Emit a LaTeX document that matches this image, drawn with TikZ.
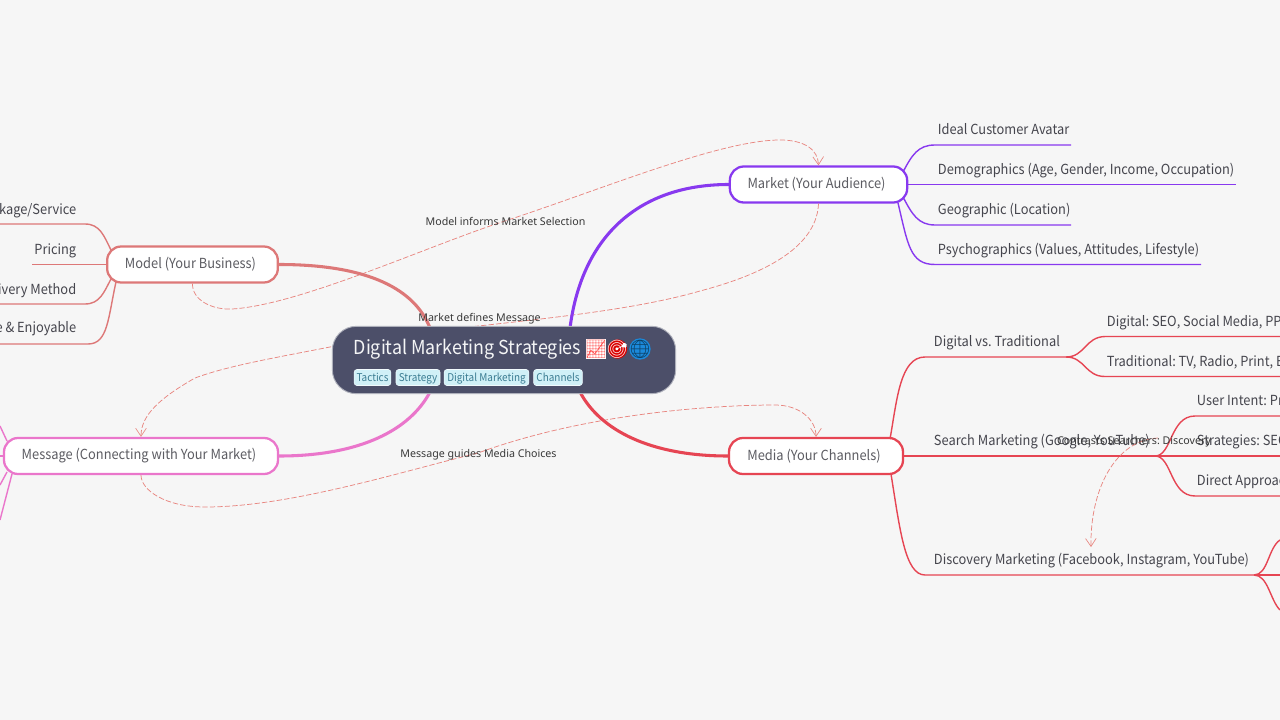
\documentclass[tikz,border=0pt]{standalone}
\usepackage{fontspec}
\usetikzlibrary{arrows.meta}
\setmainfont[FakeStretch=0.927]{Noto Sans CJK SC}
\newfontfamily\labelfont{Noto Sans}
\newfontfamily\emojifont{Noto Emoji}
\definecolor{bgc}{HTML}{F6F6F6}
\definecolor{rootc}{HTML}{4C4F69}
\definecolor{mk}{HTML}{8839EF}
\definecolor{md}{HTML}{DD7878}
\definecolor{ms}{HTML}{EA76CB}
\definecolor{me}{HTML}{E64553}
\definecolor{dashc}{HTML}{E8857F}
\definecolor{txt}{HTML}{45454D}
\definecolor{txtb}{HTML}{5C5C62}
\definecolor{tagf}{HTML}{D0F0F7}
\definecolor{tagt}{HTML}{3B7C92}
\definecolor{globe}{HTML}{1C8ADB}
\tikzset{
 x=0.75pt,y=-0.75pt,
 branch/.style={line width=2.3pt,line cap=round},
 leaf/.style={line width=1.05pt},
 topic/.style={draw,fill=white,rounded corners=10.5pt,line width=1.7pt,inner sep=0pt,text=txtb,font=\frenchspacing\fontsize{10.4pt}{13pt}\selectfont},
 subt/.style={anchor=west,inner sep=0pt,text=txt,text height=9.5pt,text depth=2.5pt,font=\frenchspacing\fontsize{10.4pt}{13pt}\selectfont},
 subr/.style={subt,anchor=east},
 rel/.style={dashc,line width=0.55pt,dash pattern=on 4pt off 1.6pt},
 relarrow/.style={rel,-{Straight Barb[length=6pt,width=8pt,line width=0.5pt]}},
 rellabel/.style={inner sep=0pt,text=black!78,text height=9pt,text depth=2pt,font=\frenchspacing\labelfont\fontsize{8pt}{10pt}\selectfont},
 tagb/.style={fill=tagf,draw=white!70!tagf,line width=0.4pt,rounded corners=2pt,inner sep=0pt,text=tagt,text height=8pt,text depth=1.9pt,font=\fontsize{8.05pt}{10pt}\selectfont},
 emo/.style={anchor=center,inner sep=0pt,font=\emojifont\fontsize{13.5pt}{16pt}\selectfont},
}
\begin{document}
\begin{tikzpicture}
\useasboundingbox (0,0) rectangle (1280,720);
\fill[bgc] (0,0) rectangle (1280,720);
\node[topic,draw=mk,minimum width=133pt,minimum height=27pt] (market) at (818.5,184.5) {\hspace*{-3pt}Market (Your Audience)};
\node[topic,draw=md,minimum width=128pt,minimum height=27pt] (model) at (192.5,264.5) {\hspace*{-3pt}Model (Your Business)};
\node[topic,draw=ms,minimum width=205.5pt,minimum height=27pt] (message) at (141,456) {\hspace*{-3pt}Message (Connecting with Your Market)};
\node[topic,draw=me,minimum width=130.5pt,minimum height=27pt] (media) at (816,456) {\hspace*{-3pt}Media (Your Channels)};
% relations under the root
\coordinate (m1) at (232,309);
\coordinate (m2) at (505,221);
\coordinate (m3) at (780,140);
\draw[relarrow] (model.south) .. controls (192,300) and (212,310) .. (m1) .. controls (300,305) and (430,245) .. (m2) .. controls (600,190) and (720,140) .. (m3) .. controls (805,140) and (818,150) .. (market.north);
\coordinate (k1) at (700,291);
\coordinate (k2) at (340,345);
\coordinate (k3) at (195,378);
\draw[relarrow] (market.south) .. controls (817,240) and (780,270) .. (k1) .. controls (600,320) and (440,325) .. (k2) .. controls (280,357) and (230,365) .. (k3) .. controls (160,398) and (141,415) .. (message.north);
\coordinate (g1) at (205,507);
\coordinate (g2) at (478,453);
\coordinate (g3) at (775,405);
\draw[relarrow] (message.south) .. controls (141,490) and (165,507) .. (g1) .. controls (290,507) and (400,472) .. (g2) .. controls (590,412) and (720,405) .. (g3) .. controls (800,405) and (816,420) .. (media.north);
% main branches
\coordinate (r1) at (570,328);
\coordinate (r2) at (430,328);
\coordinate (r3) at (430,392);
\coordinate (r4) at (580,392);
\draw[branch,mk] (r1) .. controls (582,235) and (640,184.5) .. (market.west);
\draw[branch,md] (r2) .. controls (415,290) and (370,264.5) .. (model.east);
\draw[branch,ms] (r3) .. controls (410,430) and (360,456) .. (message.east);
\draw[branch,me] (r4) .. controls (600,430) and (650,456) .. (media.west);
\node[fill=rootc,draw=white!55!rootc,line width=0.7pt,rounded corners=18pt,minimum width=257.5pt,minimum height=50.5pt,inner sep=0pt] (root) at (504,360) {};
% root content
\node[anchor=west,inner sep=0pt,text=white!94!rootc,text height=12.5pt,text depth=3.2pt,font=\fontsize{14.45pt}{18pt}\selectfont] (title) at (353.5,348) {Digital Marketing Strategies};
\node[fill=white,minimum size=15.5pt,inner sep=0pt] (e1b) at (596,349) {};
\node[emo,text=red!65!white] (e1) at (596,349) {📈};
\node[circle,fill=red!85!black,minimum size=14.5pt,inner sep=0pt] (e2b) at (617.5,349) {};
\node[emo,text=white] (e2) at (617.5,349) {🎯};
\node[circle,fill=globe,minimum size=16pt,inner sep=0pt] (e3b) at (640,349) {};
\node[emo,text=black!55!globe] (e3) at (640,349) {🌐};
\node[tagb,minimum width=27.5pt,minimum height=12pt] (t1) at (372.5,377.5) {Tactics};
\node[tagb,minimum width=33pt,minimum height=12pt] (t2) at (418,377.5) {Strategy};
\node[tagb,minimum width=63.5pt,minimum height=12pt] (t3) at (486.5,377.5) {Digital Marketing};
\node[tagb,minimum width=36.5pt,minimum height=12pt] (t4) at (558,377.5) {Channels};
% Market leaves
\coordinate (a1) at (903,172);\coordinate (a2) at (1071,145);
\coordinate (a3) at (1236,184.5);
\coordinate (a4) at (903,197);\coordinate (a5) at (1071,225);
\coordinate (a6) at (898,203);\coordinate (a7) at (1201,264.5);
\draw[leaf,mk] (a1) .. controls (912,155) and (918,145) .. (935,145) -- (a2);
\draw[leaf,mk] (market.east) -- (a3);
\draw[leaf,mk] (a4) .. controls (912,214) and (918,225) .. (935,225) -- (a5);
\draw[leaf,mk] (a6) .. controls (908,245) and (910,264.5) .. (935,264.5) -- (a7);
\node[subt] (a1t) at (937.7,129.5) {Ideal Customer Avatar};
\node[subt] (a2t) at (937.7,169.5) {Demographics (Age, Gender, Income, Occupation)};
\node[subt] (a3t) at (937.7,209.5) {Geographic (Location)};
\node[subt] (a4t) at (937.7,249.5) {Psychographics (Values, Attitudes, Lifestyle)};
% Model leaves
\coordinate (b1) at (0,224);\coordinate (b2) at (111,250);
\coordinate (b3) at (32,264.5);
\coordinate (b4) at (0,304);\coordinate (b5) at (111,279);
\coordinate (b6) at (0,344);\coordinate (b7) at (116,282);
\draw[leaf,md] (b1) -- (85,224) .. controls (100,224) and (104,236) .. (b2);
\draw[leaf,md] (b3) -- (model.west);
\draw[leaf,md] (b4) -- (85,304) .. controls (100,304) and (104,292) .. (b5);
\draw[leaf,md] (b6) -- (88,344) .. controls (108,344) and (108,318) .. (b7);
\node[subr] (b1t) at (76.5,209.5) {kage/Service};
\node[subr] (b2t) at (76.5,249.5) {Pricing};
\node[subr] (b3t) at (76.5,289.5) {ivery Method};
\node[subr] (b4t) at (76.5,328) {e \& Enjoyable};
% Message leaves
\coordinate (c1) at (7,441);\coordinate (c2) at (0,426);
\coordinate (c3) at (0,456);
\coordinate (c4) at (7,472);\coordinate (c5) at (0,485);
\coordinate (c6) at (12,474);\coordinate (c7) at (0,520);
\draw[leaf,ms] (c1) -- (c2);
\draw[leaf,ms] (c3) -- (message.west);
\draw[leaf,ms] (c4) -- (c5);
\draw[leaf,ms] (c6) -- (c7);
% Media leaves
\coordinate (d1) at (890,439);\coordinate (d2) at (1066,357);
\coordinate (d3) at (1155,456);
\coordinate (d4) at (891,474);\coordinate (d5) at (1254,575);
\draw[leaf,me] (d1) .. controls (897,400) and (900,357) .. (925,357) -- (d2);
\draw[leaf,me] (media.east) -- (d3);
\draw[leaf,me] (d4) .. controls (900,530) and (905,575) .. (925,575) -- (d5);
\draw[leaf,me] (d2) .. controls (1085,357) and (1085,337) .. (1105,336.5) -- (1280,336.5);
\draw[leaf,me] (d2) .. controls (1085,357) and (1085,376.5) .. (1105,376.5) -- (1280,376.5);
\draw[leaf,me] (d3) .. controls (1172,456) and (1170,416) .. (1195,416) -- (1280,416);
\draw[leaf,me] (d3) -- (1280,456);
\draw[leaf,me] (d3) .. controls (1172,456) and (1170,496) .. (1195,496) -- (1280,496);
\draw[leaf,me] (d5) .. controls (1268,575) and (1268,548) .. (1280,540);
\draw[leaf,me] (d5) -- (1280,575);
\draw[leaf,me] (d5) .. controls (1268,575) and (1270,600) .. (1280,610);
\node[subt] (d1t) at (933.7,341.5) {Digital vs. Traditional};
\node[subt] (d2t) at (933.7,440.5) {Search Marketing (Google, YouTube)};
\node[subt] (d3t) at (933.7,560) {Discovery Marketing (Facebook, Instagram, YouTube)};
\node[subt] (d4t) at (1106.7,321.5) {Digital: SEO, Social Media, PP};
\node[subt] (d5t) at (1106.7,361.5) {Traditional: TV, Radio, Print, E};
\node[subt] (d6t) at (1196.7,400.5) {User Intent: Pr};
\node[subt] (d7t) at (1196.7,440.5) {Strategies: SEO};
\node[subt] (d8t) at (1196.7,480.5) {Direct Approac};
% relation Search -> Discovery
\coordinate (s1) at (1158,438);
\coordinate (s2) at (1091,547);
\draw[relarrow] (s1) .. controls (1115,440) and (1090,490) .. (s2);
% relation labels
\node[rellabel] (l1) at (505.5,221) {Model informs Market Selection};
\node[rellabel] (l2) at (479.5,317) {Market defines Message};
\node[rellabel] (l3) at (478.5,453) {Message guides Media Choices};
\node[rellabel] (l4) at (1134,440) {Contrasts Searchers: Discovery};
\end{tikzpicture}
\end{document}
